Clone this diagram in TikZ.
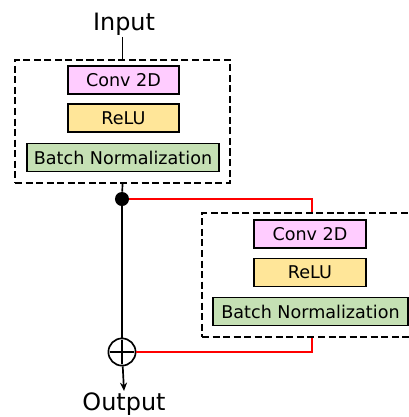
\documentclass[tikz,border=0pt]{standalone}
\usepackage{fontspec}
\setmainfont{DejaVu Sans}
\usetikzlibrary{arrows.meta}

\definecolor{convpink}{HTML}{FFCCFF}
\definecolor{reluyellow}{HTML}{FFE699}
\definecolor{bngreen}{HTML}{C5E0B4}

\tikzset{
    layer/.style={draw, line width=1.2pt, inner sep=0pt, minimum height=0.7cm, font=\fontsize{12.5}{14}\selectfont},
    block/.style={draw, dashed, line width=1.4pt, dash pattern=on 5pt off 2.5pt, inner sep=0pt},
    wire/.style={line width=1.2pt},
    skip/.style={line width=1.2pt, red},
    label/.style={font=\fontsize{17}{20}\selectfont, inner sep=1pt}
}

\begin{document}
\begin{tikzpicture}[x=0.025cm, y=-0.025cm]
    \clip (0,0) rectangle (409,417);

    % outer blocks
    \node[block, minimum width=5.375cm, minimum height=3.075cm] (blockA) at (122.5,121.5) {};
    \node[block, minimum width=5.5cm, minimum height=3.1cm] (blockB) at (312,275) {};

    % layers of the first block
    \node[layer, fill=convpink, minimum width=2.775cm] (convA) at (123.5,80) {Conv 2D};
    \node[layer, fill=reluyellow, minimum width=2.775cm] (reluA) at (123.5,118) {ReLU};
    \node[layer, fill=bngreen, minimum width=4.8cm] (bnA) at (123,157.5) {Batch Normalization};

    % layers of the second block
    \node[layer, fill=convpink, minimum width=2.8cm] (convB) at (310,234) {Conv 2D};
    \node[layer, fill=reluyellow, minimum width=2.8cm] (reluB) at (310,272.5) {ReLU};
    \node[layer, fill=bngreen, minimum width=4.875cm] (bnB) at (310.5,311.5) {Batch Normalization};

    % input, output and junctions
    \node[label] (inp) at (124,24) {Input};
    \node[label, anchor=north] (out) at (124,391) {Output};
    \node[circle, fill, inner sep=0pt, minimum size=0.35cm] (split) at (122,199) {};
    \node[circle, draw, line width=1.2pt, inner sep=0pt, minimum size=0.68cm] (add) at (122,352) {};
    \draw[wire] ([yshift=-1.5pt]add.north) -- ([yshift=1.5pt]add.south)
                ([xshift=1.5pt]add.west) -- ([xshift=-1.5pt]add.east);

    % main path
    \draw[wire] (blockA.north |- inp.south) -- (blockA.north);
    \draw[wire] (blockA.south) -- (split);
    \draw[wire] (split) -- (add);
    \draw[wire, -{Stealth[length=6pt, width=5pt]}] (add) -- (out.north);

    % skip branch
    \draw[skip] (split) -| (blockB.north);
    \draw[skip] (blockB.south) |- (add);
\end{tikzpicture}
\end{document}
